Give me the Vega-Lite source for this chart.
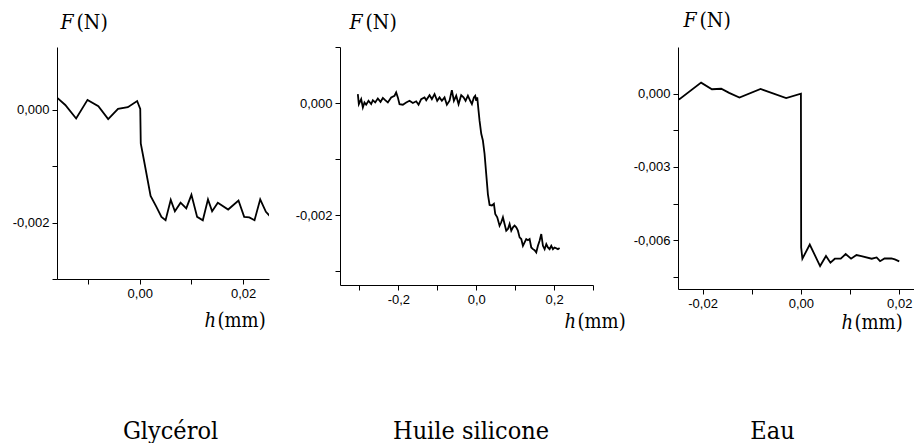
{
  "$schema": "https://vega.github.io/schema/vega-lite/v6.json",
  "padding": {"left": 12, "top": 9, "right": 0, "bottom": 0},
  "background": "white",
  "datasets": {
    "glycerol": [
      {"h": -0.016, "F": 0.00021}, {"h": -0.0144, "F": 0.00008}, {"h": -0.0123, "F": -0.00016},
      {"h": -0.0101, "F": 0.00017}, {"h": -0.008, "F": 0.00006}, {"h": -0.0061, "F": -0.00017},
      {"h": -0.0042, "F": 0.00001}, {"h": -0.0023, "F": 0.00004}, {"h": -0.0005, "F": 0.00015},
      {"h": 0.0001, "F": 0.00001}, {"h": 0.0002, "F": -0.0006}, {"h": 0.0008, "F": -0.00089},
      {"h": 0.0021, "F": -0.00153}, {"h": 0.0032, "F": -0.00172}, {"h": 0.0042, "F": -0.0019},
      {"h": 0.005, "F": -0.00196}, {"h": 0.006, "F": -0.0016}, {"h": 0.0068, "F": -0.0018},
      {"h": 0.0079, "F": -0.00165}, {"h": 0.009, "F": -0.00175}, {"h": 0.01, "F": -0.00151},
      {"h": 0.0111, "F": -0.0019}, {"h": 0.0122, "F": -0.00196}, {"h": 0.0132, "F": -0.00159},
      {"h": 0.014, "F": -0.0018}, {"h": 0.0151, "F": -0.00165}, {"h": 0.0171, "F": -0.00177},
      {"h": 0.0191, "F": -0.00161}, {"h": 0.0202, "F": -0.0019}, {"h": 0.0212, "F": -0.00191},
      {"h": 0.0222, "F": -0.00196}, {"h": 0.0233, "F": -0.00159}, {"h": 0.0244, "F": -0.00181},
      {"h": 0.0253, "F": -0.0019}
    ],
    "huile": [
      {"h": -0.3042, "F": 0.00016}, {"h": -0.3016, "F": -0.00002}, {"h": -0.2956, "F": 0.00007},
      {"h": -0.2913, "F": -0.00008}, {"h": -0.2871, "F": 0.00001}, {"h": -0.2828, "F": -0.00003},
      {"h": -0.2768, "F": 0.00004}, {"h": -0.2699, "F": -0.00002}, {"h": -0.2656, "F": 0.00005},
      {"h": -0.2596, "F": 0.00001}, {"h": -0.2528, "F": 0.00008}, {"h": -0.2459, "F": 0.00002},
      {"h": -0.2399, "F": 0.00009}, {"h": -0.2339, "F": 0.00005}, {"h": -0.2271, "F": 0.00001},
      {"h": -0.2185, "F": 0.0001}, {"h": -0.2099, "F": 0.00013}, {"h": -0.2057, "F": 0.00019},
      {"h": -0.2014, "F": 0.0001}, {"h": -0.1971, "F": -0.00002}, {"h": -0.1885, "F": -0.00003},
      {"h": -0.1799, "F": 0.00001}, {"h": -0.1714, "F": 0.00004}, {"h": -0.1628, "F": 0.0},
      {"h": -0.1542, "F": 0.00003}, {"h": -0.1482, "F": -0.00003}, {"h": -0.1414, "F": 0.00007},
      {"h": -0.1328, "F": 0.0001}, {"h": -0.1285, "F": 0.00005}, {"h": -0.12, "F": 0.00014},
      {"h": -0.114, "F": 0.00007}, {"h": -0.1071, "F": 0.00016}, {"h": -0.1003, "F": 0.00004},
      {"h": -0.0943, "F": 0.0001}, {"h": -0.0883, "F": 0.00004}, {"h": -0.0814, "F": 0.0001},
      {"h": -0.0754, "F": -0.00003}, {"h": -0.0686, "F": 0.00004}, {"h": -0.0626, "F": 0.00023},
      {"h": -0.0574, "F": 0.00004}, {"h": -0.0514, "F": 0.00013}, {"h": -0.0454, "F": -0.00002},
      {"h": -0.0386, "F": 0.00014}, {"h": -0.0326, "F": 0.0001}, {"h": -0.0274, "F": 0.00004},
      {"h": -0.0214, "F": 0.00013}, {"h": -0.0154, "F": 0.00004}, {"h": -0.0111, "F": -0.00002},
      {"h": -0.006, "F": 0.0001}, {"h": -0.0026, "F": 0.00013}, {"h": 0.0, "F": 0.00004},
      {"h": 0.0026, "F": 0.0001}, {"h": 0.006, "F": -0.00014}, {"h": 0.0086, "F": -0.00032},
      {"h": 0.0129, "F": -0.00055}, {"h": 0.0171, "F": -0.00067}, {"h": 0.0214, "F": -0.00091},
      {"h": 0.0257, "F": -0.00127}, {"h": 0.03, "F": -0.00163}, {"h": 0.0343, "F": -0.00182},
      {"h": 0.0403, "F": -0.00183}, {"h": 0.0454, "F": -0.0018}, {"h": 0.0488, "F": -0.00198},
      {"h": 0.054, "F": -0.00204}, {"h": 0.06, "F": -0.00219}, {"h": 0.0643, "F": -0.00213},
      {"h": 0.0686, "F": -0.00204}, {"h": 0.0728, "F": -0.00216}, {"h": 0.0771, "F": -0.00228},
      {"h": 0.0814, "F": -0.00225}, {"h": 0.0857, "F": -0.00216}, {"h": 0.09, "F": -0.00228},
      {"h": 0.0943, "F": -0.00222}, {"h": 0.0985, "F": -0.00219}, {"h": 0.1028, "F": -0.00222},
      {"h": 0.1071, "F": -0.00228}, {"h": 0.1114, "F": -0.0024}, {"h": 0.1157, "F": -0.00243},
      {"h": 0.12, "F": -0.00255}, {"h": 0.1243, "F": -0.00249}, {"h": 0.1285, "F": -0.00243},
      {"h": 0.1328, "F": -0.00245}, {"h": 0.1371, "F": -0.00243}, {"h": 0.1414, "F": -0.00258},
      {"h": 0.1457, "F": -0.00261}, {"h": 0.15, "F": -0.00263}, {"h": 0.1542, "F": -0.00267},
      {"h": 0.1585, "F": -0.00255}, {"h": 0.1628, "F": -0.00246}, {"h": 0.1671, "F": -0.00234},
      {"h": 0.1714, "F": -0.00255}, {"h": 0.1757, "F": -0.00261}, {"h": 0.18, "F": -0.00252},
      {"h": 0.1842, "F": -0.00258}, {"h": 0.1885, "F": -0.00261}, {"h": 0.1928, "F": -0.00255},
      {"h": 0.1971, "F": -0.00261}, {"h": 0.2014, "F": -0.00258}, {"h": 0.2099, "F": -0.00261},
      {"h": 0.2142, "F": -0.00259}
    ],
    "eau": [
      {"h": -0.025, "F": -0.00019}, {"h": -0.0247, "F": -0.00023}, {"h": -0.0203, "F": 0.00045},
      {"h": -0.0181, "F": 0.00018}, {"h": -0.0162, "F": 0.0002}, {"h": -0.0146, "F": 0.00003},
      {"h": -0.0125, "F": -0.00016}, {"h": -0.0082, "F": 0.00019}, {"h": -0.003, "F": -0.00018},
      {"h": 0.0, "F": 0.0}, {"h": 0.00005, "F": -0.0063}, {"h": 0.0003, "F": -0.00676},
      {"h": 0.0018, "F": -0.00618}, {"h": 0.0039, "F": -0.00706}, {"h": 0.0051, "F": -0.00665},
      {"h": 0.006, "F": -0.00692}, {"h": 0.0069, "F": -0.00676}, {"h": 0.0081, "F": -0.00676},
      {"h": 0.0091, "F": -0.00657}, {"h": 0.0102, "F": -0.00676}, {"h": 0.0113, "F": -0.00661},
      {"h": 0.0123, "F": -0.00665}, {"h": 0.0144, "F": -0.00676}, {"h": 0.0154, "F": -0.00671},
      {"h": 0.0161, "F": -0.00686}, {"h": 0.017, "F": -0.00675}, {"h": 0.0184, "F": -0.00675},
      {"h": 0.0191, "F": -0.00679}, {"h": 0.02, "F": -0.00687}
    ]
  },
  "spacing": 71,
  "bounds": "flush",
  "align": "none",
  "hconcat": [
    {
      "width": 212, "height": 232,
      "data": {"name": "glycerol"},
      "resolve": {"axis": {"x": "independent", "y": "independent"}},
      "layer": [
        {
          "mark": {"type": "line", "color": "black", "strokeWidth": 1.8, "clip": true},
          "encoding": {
            "x": {"field": "h", "type": "quantitative", "scale": {"domain": [-0.016, 0.025], "nice": false, "zero": false},
              "axis": {"orient": "bottom", "values": [-0.01, 0, 0.01, 0.02], "labelExpr": "datum.value === 0 ? '0,00' : datum.value === 0.02 ? '0,02' : ''",
                "title": "h", "titleFontSize": 20, "titleFontStyle": "italic", "titleX": 147, "titleY": 47}},
            "y": {"field": "F", "type": "quantitative", "scale": {"domain": [-0.003, 0.0011062], "nice": false, "zero": false},
              "axis": {"orient": "left", "values": [0, -0.001, -0.002, -0.003], "labelExpr": "datum.value === 0 ? '0,000' : datum.value === -0.002 ? '-0,002' : ''",
                "title": "F", "titleFontStyle": "italic", "titleX": 3, "titleY": -18.5}}
          }
        },
        {
          "mark": {"type": "line", "opacity": 0},
          "encoding": {
            "x": {"field": "h", "type": "quantitative", "axis": {"orient": "bottom", "domain": false, "ticks": false, "labels": false, "title": "(mm)", "titleFontSize": 20, "titleX": 160, "titleY": 47}},
            "y": {"field": "F", "type": "quantitative", "axis": {"orient": "left", "domain": false, "ticks": false, "labels": false, "title": "(N)", "titleX": 19, "titleY": -18.5}}
          }
        },
        {
          "mark": {"type": "line", "opacity": 0},
          "encoding": {
            "x": {"field": "h", "type": "quantitative", "axis": {"orient": "bottom", "domain": false, "ticks": false, "labels": false, "title": "Glycérol", "titleFontSize": 25, "titleAlign": "center", "titleX": 113, "titleY": 159}},
            "y": {"field": "F", "type": "quantitative", "axis": null}
          }
        }
      ]
    },
    {
      "spacing": 85,
      "bounds": "flush",
      "align": "none",
      "hconcat": [
        {
          "width": 253, "height": 238,
          "data": {"name": "huile"},
          "resolve": {"axis": {"x": "independent", "y": "independent"}},
          "layer": [
            {
              "mark": {"type": "line", "color": "black", "strokeWidth": 1.8, "clip": true},
              "encoding": {
                "x": {"field": "h", "type": "quantitative", "scale": {"domain": [-0.35, 0.3], "nice": false, "zero": false},
                  "axis": {"orient": "bottom", "values": [-0.3, -0.2, -0.1, 0, 0.1, 0.2, 0.3], "labelExpr": "datum.value === 0 ? '0,0' : datum.value === 0.2 ? '0,2' : datum.value === -0.2 ? '-0,2' : ''",
                    "title": "h", "titleFontSize": 20, "titleFontStyle": "italic", "titleX": 224, "titleY": 42}},
                "y": {"field": "F", "type": "quantitative", "scale": {"domain": [-0.00325, 0.001], "nice": false, "zero": false},
                  "axis": {"orient": "left", "values": [0.001, 0, -0.001, -0.002, -0.003], "labelExpr": "datum.value === 0 ? '0,000' : datum.value === -0.002 ? '-0,002' : ''",
                    "title": "F", "titleFontStyle": "italic", "titleX": 9, "titleY": -18.7}}
              }
            },
            {
              "mark": {"type": "line", "opacity": 0},
              "encoding": {
                "x": {"field": "h", "type": "quantitative", "axis": {"orient": "bottom", "domain": false, "ticks": false, "labels": false, "title": "(mm)", "titleFontSize": 20, "titleX": 237, "titleY": 42}},
                "y": {"field": "F", "type": "quantitative", "axis": {"orient": "left", "domain": false, "ticks": false, "labels": false, "title": "(N)", "titleX": 25, "titleY": -18.7}}
              }
            },
            {
              "mark": {"type": "line", "opacity": 0},
              "encoding": {
                "x": {"field": "h", "type": "quantitative", "axis": {"orient": "bottom", "domain": false, "ticks": false, "labels": false, "title": "Huile silicone", "titleFontSize": 25, "titleAlign": "center", "titleX": 130.5, "titleY": 153}},
                "y": {"field": "F", "type": "quantitative", "axis": null}
              }
            }
          ]
        },
        {
          "width": 236, "height": 242,
          "data": {"name": "eau"},
          "resolve": {"axis": {"x": "independent", "y": "independent"}},
          "layer": [
            {
              "mark": {"type": "line", "color": "black", "strokeWidth": 1.8, "clip": true},
              "encoding": {
                "x": {"field": "h", "type": "quantitative", "scale": {"domain": [-0.025, 0.023], "nice": false, "zero": false},
                  "axis": {"orient": "bottom", "values": [-0.02, -0.01, 0, 0.01, 0.02], "labelExpr": "datum.value === 0 ? '0,00' : datum.value === 0.02 ? '0,02' : datum.value === -0.02 ? '-0,02' : ''",
                    "title": "h", "titleFontSize": 20, "titleFontStyle": "italic", "titleX": 163, "titleY": 39}},
                "y": {"field": "F", "type": "quantitative", "scale": {"domain": [-0.008, 0.00191], "nice": false, "zero": false},
                  "axis": {"orient": "left", "values": [0, -0.0015, -0.003, -0.0045, -0.006, -0.0075], "labelExpr": "datum.value === 0 ? '0,000' : datum.value === -0.003 ? '-0,003' : datum.value === -0.006 ? '-0,006' : ''",
                    "title": "F", "titleFontStyle": "italic", "titleX": 5, "titleY": -21}}
              }
            },
            {
              "mark": {"type": "line", "opacity": 0},
              "encoding": {
                "x": {"field": "h", "type": "quantitative", "axis": {"orient": "bottom", "domain": false, "ticks": false, "labels": false, "title": "(mm)", "titleFontSize": 20, "titleX": 176, "titleY": 39}},
                "y": {"field": "F", "type": "quantitative", "axis": {"orient": "left", "domain": false, "ticks": false, "labels": false, "title": "(N)", "titleX": 21, "titleY": -21}}
              }
            },
            {
              "mark": {"type": "line", "opacity": 0},
              "encoding": {
                "x": {"field": "h", "type": "quantitative", "axis": {"orient": "bottom", "domain": false, "ticks": false, "labels": false, "title": "Eau", "titleFontSize": 25, "titleAlign": "center", "titleX": 94, "titleY": 149}},
                "y": {"field": "F", "type": "quantitative", "axis": null}
              }
            }
          ]
        }
      ]
    }
  ],
  "config": {
    "view": {"stroke": null},
    "axis": {
      "grid": false,
      "domainColor": "black",
      "domainWidth": 1,
      "tickColor": "black",
      "tickSize": 5,
      "labelColor": "black",
      "labelFont": "Liberation Sans",
      "labelFontSize": 13,
      "labelPadding": 3,
      "labelFlush": false,
      "labelOverlap": false,
      "labelBound": false,
      "titleFont": "DejaVu Serif Condensed",
      "titleFontSize": 21,
      "titleFontWeight": "normal",
      "titleColor": "black",
      "titleAngle": 0,
      "titleAlign": "left",
      "titleBaseline": "alphabetic"
    }
  }
}
